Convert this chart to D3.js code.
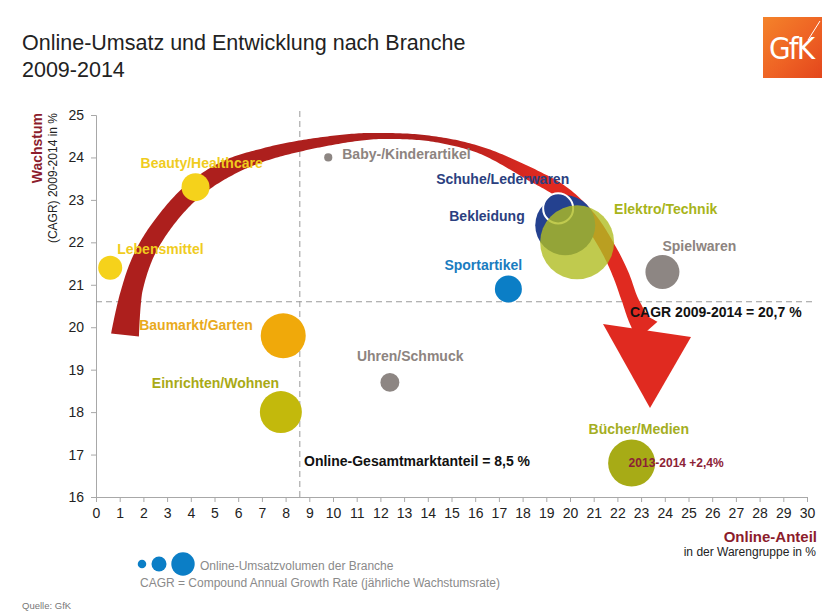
<!DOCTYPE html>
<html>
<head>
<meta charset="utf-8">
<script src="https://cdn.jsdelivr.net/npm/d3@7"></script>
<style>
  html, body { margin: 0; padding: 0; background: #fff; }
  svg { display: block; font-family: "Liberation Sans", Arial, sans-serif; }
</style>
</head>
<body>
<svg id="chart" width="832" height="614"></svg>
<script>
// ---------------- DATA ----------------
const categories = ["Lebensmittel", "Beauty/Healthcare", "Baby-/Kinderartikel", "Baumarkt/Garten",
  "Einrichten/Wohnen", "Uhren/Schmuck", "Sportartikel", "Bekleidung", "Schuhe/Lederwaren",
  "Elektro/Technik", "Spielwaren", "Bücher/Medien"];
const onlineShare = [0.6, 4.2, 9.8, 7.9, 7.8, 12.4, 17.4, 19.8, 19.5, 20.3, 23.9, 22.6];   // % Online-Anteil
const cagr        = [21.4, 23.3, 24.0, 19.8, 18.0, 18.7, 20.9, 22.4, 22.8, 22.0, 21.3, 16.8]; // % CAGR 2009-2014
const volume      = [0.95, 1.29, 0.11, 3.33, 2.9, 0.59, 1.2, 5.92, 1.48, 9.0, 1.9, 3.63];   // relative Online-Umsatzvolumen
const xTicks = d3.range(0, 31, 1);
const yTicks = d3.range(16, 26, 1);
const marketShareLine = 8.6;   // Online-Gesamtmarktanteil
const cagrLine = 20.6;         // CAGR 2009-2014
const legendVolumes = [0.12, 0.37, 0.9];
const extraNote = "2013-2014 +2,4%";

// ---------------- STYLES / LAYOUT ----------------
const style = {
  "Lebensmittel":        { fill: "#f5d21b", label: "#f0cc1e", dx: 7,    dy: -14 },
  "Beauty/Healthcare":   { fill: "#f5d21b", label: "#f0cc1e", dx: -55,  dy: -19 },
  "Baby-/Kinderartikel": { fill: "#8d8683", label: "#8d8480", dx: 14,   dy: 2 },
  "Baumarkt/Garten":     { fill: "#f0a90a", label: "#e9aa1c", dx: -144, dy: -6 },
  "Einrichten/Wohnen":   { fill: "#c3b90c", label: "#a9aa16", dx: -129, dy: -24 },
  "Uhren/Schmuck":       { fill: "#8d8683", label: "#8d8480", dx: -33,  dy: -21 },
  "Sportartikel":        { fill: "#0b7ec6", label: "#1a7cc0", dx: -64,  dy: -19 },
  "Bekleidung":          { fill: "#24418f", label: "#2b3f80", dx: -116, dy: -4 },
  "Schuhe/Lederwaren":   { fill: "#24418f", label: "#2b3f80", dx: -122, dy: -24, stroke: "#fff" },
  "Elektro/Technik":     { fill: "#b0bd22", label: "#a8b41a", dx: 37,   dy: -28, opacity: 0.8 },
  "Spielwaren":          { fill: "#8d8683", label: "#8d8480", dx: 0,    dy: -21 },
  "Bücher/Medien":       { fill: "#a7ab16", label: "#a4ae22", dx: -43,  dy: -29 }
};

const svg = d3.select("#chart");
const x = d3.scaleLinear().domain([0, 30]).range([96, 807]);
const y = d3.scaleLinear().domain([16, 25]).range([497, 115]);
const r = d3.scaleSqrt().domain([0, 9]).range([0, 37]);

// ---------------- TITLE ----------------
svg.append("text").attr("x", 22).attr("y", 50).attr("font-size", 21.5).attr("fill", "#222")
  .text("Online-Umsatz und Entwicklung nach Branche");
svg.append("text").attr("x", 22).attr("y", 77).attr("font-size", 21.5).attr("fill", "#222")
  .text("2009-2014");

// Logo
const defs = svg.append("defs");
const lg = defs.append("linearGradient").attr("id", "logoGrad").attr("x1", 0).attr("y1", 0).attr("x2", 1).attr("y2", 1);
lg.append("stop").attr("offset", "0%").attr("stop-color", "#f4832a");
lg.append("stop").attr("offset", "55%").attr("stop-color", "#ee6224");
lg.append("stop").attr("offset", "100%").attr("stop-color", "#e3461c");
svg.append("rect").attr("x", 763).attr("y", 17).attr("width", 59).attr("height", 61).attr("fill", "url(#logoGrad)");
svg.append("text").attr("x", 792).attr("y", 59).attr("text-anchor", "middle")
  .attr("font-family", "'Liberation Sans Narrow', 'DejaVu Sans Condensed', sans-serif")
  .attr("font-size", 31).attr("fill", "#fff").attr("textLength", 46).text("GfK");
svg.append("line").attr("x1", 808).attr("y1", 40).attr("x2", 820).attr("y2", 21)
  .attr("stroke", "#fff").attr("stroke-width", 1);

// ---------------- AXES ----------------
const gx = svg.append("g").attr("transform", `translate(0,${y(16)})`)
  .call(d3.axisBottom(x).tickValues(xTicks).tickSize(5).tickPadding(6).tickFormat(d3.format("d")));
const gy = svg.append("g").attr("transform", `translate(${x(0)},0)`)
  .call(d3.axisLeft(y).tickValues(yTicks).tickSize(5).tickPadding(7).tickFormat(d3.format("d")));
[gx, gy].forEach(g => {
  g.select(".domain").attr("stroke", "#a8a8a8");
  g.selectAll(".tick line").attr("stroke", "#a8a8a8");
  g.selectAll(".tick text").attr("font-size", 14).attr("fill", "#222")
    .attr("font-family", "'Liberation Sans', Arial, sans-serif");
});

// Axis titles
svg.append("text").attr("transform", "translate(42,113) rotate(-90)").attr("text-anchor", "end")
  .attr("font-size", 14).attr("font-weight", "bold").attr("fill", "#8c1c2c").text("Wachstum");
svg.append("text").attr("transform", "translate(57,113) rotate(-90)").attr("text-anchor", "end")
  .attr("font-size", 12).attr("fill", "#222").text("(CAGR) 2009-2014 in %");
svg.append("text").attr("x", 817).attr("y", 542).attr("text-anchor", "end")
  .attr("font-size", 15).attr("font-weight", "bold").attr("fill", "#8c1c2c").text("Online-Anteil");
svg.append("text").attr("x", 816).attr("y", 556).attr("text-anchor", "end")
  .attr("font-size", 12).attr("fill", "#222").text("in der Warengruppe in %");

// Reference lines
svg.append("line").attr("x1", x(marketShareLine)).attr("x2", x(marketShareLine))
  .attr("y1", 111).attr("y2", y(16))
  .attr("stroke", "#9a9a9a").attr("stroke-dasharray", "6,4").attr("stroke-width", 1);
svg.append("line").attr("x1", x(0)).attr("x2", 815)
  .attr("y1", y(cagrLine)).attr("y2", y(cagrLine))
  .attr("stroke", "#9a9a9a").attr("stroke-dasharray", "6,4").attr("stroke-width", 1);

// ---------------- CURVED ARROW ----------------
const arrowCenter = [[125,335],[132,290],[145,253],[166,220],[194,190],[228,168],[263,155],[300,146],
  [350,138],[380,136],[430,138.5],[480,150],[530,174],[563,193],[590,220],[609,250],[621,275],
  [630,300],[640,322],[647,331]];
const arrowWidth = [28,21,19,18,18,17,13,11,8,6,5.5,7,13,14,15,15,16,16,20,28];
const ag = defs.append("linearGradient").attr("id", "arrowGrad").attr("gradientUnits", "userSpaceOnUse")
  .attr("x1", 430).attr("y1", 0).attr("x2", 545).attr("y2", 0);
ag.append("stop").attr("offset", "0%").attr("stop-color", "#ad1f1d");
ag.append("stop").attr("offset", "100%").attr("stop-color", "#e02a20");

const tmp = svg.append("path").attr("d", d3.line().curve(d3.curveCatmullRom.alpha(0.5))(arrowCenter))
  .attr("fill", "none").attr("stroke", "none");
const node = tmp.node();
const total = node.getTotalLength();
const cum = [0];
for (let i = 1; i < arrowCenter.length; i++) {
  cum.push(cum[i-1] + Math.hypot(arrowCenter[i][0]-arrowCenter[i-1][0], arrowCenter[i][1]-arrowCenter[i-1][1]));
}
const wScale = d3.scaleLinear().domain(cum.map(c => c / cum[cum.length-1])).range(arrowWidth);
const N = 300, left = [], right = [];
for (let i = 0; i <= N; i++) {
  const L = total * i / N;
  const p = node.getPointAtLength(L);
  const p0 = node.getPointAtLength(Math.max(0, L - 1));
  const p1 = node.getPointAtLength(Math.min(total, L + 1));
  let tx = p1.x - p0.x, ty = p1.y - p0.y;
  const len = Math.hypot(tx, ty) || 1; tx /= len; ty /= len;
  const w = wScale(i / N) / 2;
  left.push([p.x - ty * w, p.y + tx * w]);
  right.push([p.x + ty * w, p.y - tx * w]);
}
tmp.remove();
const shaft = left.concat(right.reverse());
svg.append("path").attr("d", "M" + shaft.map(p => p.join(",")).join("L") + "Z").attr("fill", "url(#arrowGrad)");
svg.append("path").attr("d", "M603,324L691,337L650,408Z").attr("fill", "#e02a20");

// ---------------- BUBBLES ----------------
const data = categories.map((c, i) => ({ c, xv: onlineShare[i], yv: cagr[i], v: volume[i] }));
svg.append("g").selectAll("circle").data(data).join("circle")
  .attr("cx", d => x(d.xv)).attr("cy", d => y(d.yv)).attr("r", d => r(d.v))
  .attr("fill", d => style[d.c].fill)
  .attr("fill-opacity", d => style[d.c].opacity || 1)
  .attr("stroke", d => style[d.c].stroke || "none")
  .attr("stroke-width", 2);

// Labels
svg.append("g").selectAll("text").data(data).join("text")
  .attr("x", d => x(d.xv) + style[d.c].dx).attr("y", d => y(d.yv) + style[d.c].dy)
  .attr("font-size", 14).attr("font-weight", "bold")
  .attr("fill", d => style[d.c].label).text(d => d.c);

// Annotations
const bi = categories.indexOf("Bücher/Medien");
svg.append("text").attr("x", x(onlineShare[bi]) - 3).attr("y", y(cagr[bi]) + 4)
  .attr("font-size", 12).attr("font-weight", "bold").attr("fill", "#8c2236").text(extraNote);
svg.append("text").attr("x", 630).attr("y", 317).attr("font-size", 14).attr("font-weight", "bold")
  .attr("fill", "#111").text("CAGR 2009-2014 = 20,7 %");
svg.append("text").attr("x", 304).attr("y", 466).attr("font-size", 14).attr("font-weight", "bold")
  .attr("fill", "#111").text("Online-Gesamtmarktanteil = 8,5 %");

// ---------------- LEGEND ----------------
const lx = [142, 159, 183];
svg.append("g").selectAll("circle").data(legendVolumes).join("circle")
  .attr("cx", (d, i) => lx[i]).attr("cy", 564).attr("r", d => r(d)).attr("fill", "#0b7ec6");
svg.append("text").attr("x", 200).attr("y", 570).attr("font-size", 12).attr("fill", "#8a8a8a")
  .text("Online-Umsatzvolumen der Branche");
svg.append("text").attr("x", 140).attr("y", 587).attr("font-size", 12).attr("fill", "#8a8a8a")
  .text("CAGR = Compound Annual Growth Rate (jährliche Wachstumsrate)");
svg.append("text").attr("x", 22).attr("y", 609).attr("font-size", 9.5).attr("fill", "#777")
  .text("Quelle: GfK");
</script>
</body>
</html>
